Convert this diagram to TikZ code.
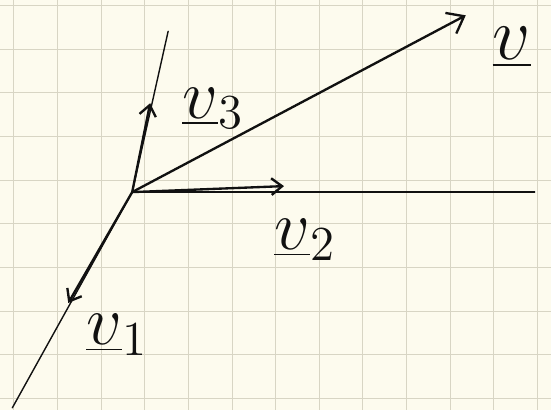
\documentclass[tikz,border=0pt]{standalone}
\usetikzlibrary{arrows.meta}
\definecolor{Paper}{HTML}{FDFBEE}
\definecolor{Grid}{HTML}{D8D5C4}
\definecolor{Ink}{HTML}{111111}
\tikzset{
  axisline/.style={draw=Ink,line width=1.2pt,line cap=round},
  vecline/.style={-{Straight Barb[length=3.2mm,width=5mm]},draw=Ink,line width=2pt,line cap=round},
  veclabel/.style={font=\huge,text=Ink,inner sep=0pt,transform shape}
}

\begin{document}
\begin{tikzpicture}[x=0.03cm,y=-0.03cm]
  \fill[Paper] (0,0) rectangle (551,410);
  \foreach \k in {0,...,12} \draw[Grid,line width=0.6pt] ({13.3+43.7*\k},0) -- ({13.3+43.7*\k},410);
  \foreach \k in {0,...,9} \draw[Grid,line width=0.6pt] (0,{5+43.7*\k}) -- (551,{5+43.7*\k});
  \useasboundingbox (0,0) rectangle (551,410);

  \coordinate (origin) at (132,192);
  \coordinate (zaxis) at (168,31);
  \coordinate (xaxis) at (12,408);
  \coordinate (yaxis) at (535,192);
  \coordinate (tipone) at (68,303);
  \coordinate (tiptwo) at (284,186);
  \coordinate (tipthree) at (150,103);
  \coordinate (tipv) at (466,15);

  \draw[axisline] (origin) -- (zaxis);
  \draw[axisline] (origin) -- (xaxis);
  \draw[axisline] (origin) -- (yaxis);

  \draw[vecline] (origin) -- (tipone);
  \draw[vecline] (origin) -- (tiptwo);
  \draw[vecline] (origin) -- (tipthree);
  \draw[vecline,-{Straight Barb[length=4.5mm,width=7mm]}] (origin) -- (tipv);

  \node[veclabel,scale=2.9] (labone) at (117,335) {$\underline{v}_1$};
  \node[veclabel,scale=2.9] (labtwo) at (305,240) {$\underline{v}_2$};
  \node[veclabel,scale=2.9] (labthree) at (213,108) {$\underline{v}_3$};
  \node[veclabel,scale=3.1] (labv) at (512,47) {$\underline{v}$};
\end{tikzpicture}
\end{document}
